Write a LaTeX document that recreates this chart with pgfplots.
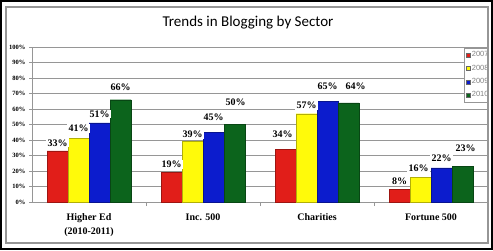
\documentclass[border=0pt]{standalone}
\usepackage{fontspec}
\setmainfont{Liberation Serif}
\newfontfamily\carlito{Carlito}
\newfontfamily\lsans{Liberation Sans}
\usepackage{pgfplots}
\pgfplotsset{compat=1.18}
\usepackage{pgfplotstable}
\definecolor{cred}{RGB}{225,30,25}
\definecolor{cyel}{RGB}{255,250,10}
\definecolor{cblue}{RGB}{12,28,205}
\definecolor{cgreen}{RGB}{12,100,28}
\definecolor{cgrid}{RGB}{150,150,150}
\pgfplotstableread{
x y dy dx
0 33 8 0
1 19 8 0
2 34 15 -3
3 8 8 0
}\tA
\pgfplotstableread{
x y dy dx
0 41 10 0
1 39 7 0
2 57 8 0
3 16 9 -2
}\tB
\pgfplotstableread{
x y dy dx
0 51 9 0
1 45 15 0
2 65 15 0
3 22 10 0
}\tC
\pgfplotstableread{
x y dy dx
0 66 12 0
1 50 22 1
2 64 17 7
3 23 18 3
}\tD
\begin{document}
\begin{tikzpicture}[x=1pt,y=1pt]
\path[use as bounding box] (0,0) rectangle (493,250);
\fill[white] (0,0) rectangle (493,250);
\begin{axis}[
  at={(32pt,48pt)}, anchor=south west,
  scale only axis, width=456pt, height=155pt,
  xmin=-0.5, xmax=3.5, ymin=0, ymax=100,
  ybar=0pt, bar width=21pt,
  axis line style={draw=cgrid, line width=0.8pt},
  ymajorgrids, grid style={draw=cgrid, line width=0.8pt},
  tick align=outside,
  major tick length=3pt, minor tick length=4pt,
  tick style={draw=cgrid, line width=0.8pt},
  xtick={0,1,2,3},
  xticklabels={{Higher Ed\\(2010-2011)},{Inc. 500},{Charities},{Fortune 500}},
  major x tick style={draw=none},
  minor xtick={0.5,1.5,2.5},
  xticklabel style={align=center, font=\bfseries\fontsize{10}{14.5}\selectfont, anchor=north, yshift=-5pt},
  ytick={0,10,...,100},
  yticklabels={0\%,10\%,20\%,30\%,40\%,50\%,60\%,70\%,80\%,90\%,100\%},
  yticklabel style={font=\bfseries\fontsize{6.5}{7}\selectfont},
  /pgf/number format/assume math mode=true,
  ytick pos=left, xtick pos=bottom,
  visualization depends on={\thisrow{dy} \as \labdy},
  visualization depends on={\thisrow{dx} \as \labdx},
  nodes near coords={\pgfmathprintnumber{\pgfplotspointmeta}\%},
  every node near coord/.append style={anchor=center, yshift=\labdy pt, xshift=\labdx pt,
     font=\bfseries\fontsize{10}{12}\selectfont, fill=white, inner xsep=1.5pt, inner ysep=1pt, text=black},
  legend style={at={(0.947,0.994)}, anchor=north west, draw=cgrid, fill=white,
     font=\lsans\fontsize{7.5}{8}\selectfont, text=gray, inner sep=1.5pt, row sep=2.6pt,
     legend cell align=left},
  legend image code/.code={\draw[#1, draw=black!60, line width=0.3pt] (0pt,-2pt) rectangle (4pt,2pt);},
]
\addplot[fill=cred, draw=cred!70!black, line width=0.3pt] table[x=x,y=y] {\tA};
\addplot[fill=cyel, draw=cyel!70!black, line width=0.3pt] table[x=x,y=y] {\tB};
\addplot[fill=cblue, draw=cblue!70!black, line width=0.3pt] table[x=x,y=y] {\tC};
\addplot[fill=cgreen, draw=cgreen!70!black, line width=0.3pt] table[x=x,y=y] {\tD};
\legend{2007,2008,2009,2010}
\end{axis}
\fill[white] (488.6,0) rectangle (493,250);
\node[font=\carlito\fontsize{15}{18}\selectfont] at (248,227) {Trends in Blogging by Sector};
\draw[cgrid, line width=1.2pt] (6,7) rectangle (488,243);
\draw[black, line width=2pt] (1,1) rectangle (492,249);
\end{tikzpicture}
\end{document}
